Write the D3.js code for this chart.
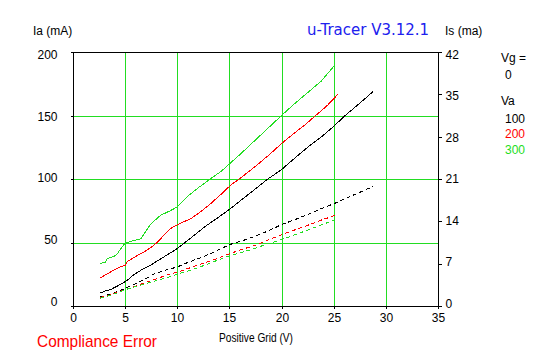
<!DOCTYPE html>
<html>
<head>
<meta charset="utf-8">
<script src="https://cdn.jsdelivr.net/npm/d3@7"></script>
<style>
  html, body { margin: 0; padding: 0; background: #fff; }
  svg { display: block; }
  text { font-family: "Liberation Sans", Arial, sans-serif; }
</style>
</head>
<body>
<svg id="chart" width="547" height="357"></svg>
<script>
// ---- data ----
const xTicks = [0, 5, 10, 15, 20, 25, 30, 35];
const yTicks = [0, 50, 100, 150, 200];
const y2Ticks = [0, 7, 14, 21, 28, 35, 42];
const vaLabels = ["100", "200", "300"];
const seriesColors = ["#000000", "#ff0000", "#22dd22"];

// Anode current Ia (mA), left axis
const ia100V = [2.6, 3.1, 3.6, 4.2, 4.7, 5.2, 5.8, 6.5, 7.5, 8.7, 10.0, 10.8, 11.6, 12.6, 13.8, 15.1, 16.1, 17.3, 18.6, 20.0, 21.2, 22.5, 23.8, 25.0, 26.1, 27.4, 28.8];
const ia100  = [10.2, 11.8, 12.9, 15.5, 17.6, 20.2, 24.5, 28.1, 32.5, 38.6, 45.2, 50.4, 55.5, 62.2, 69.0, 76.7, 83.2, 91.0, 99.5, 107.4, 116.0, 125.0, 133.0, 141.5, 150.0, 159.0, 169.0];
const ia200V = [2.6, 3.1, 3.6, 4.5, 5.0, 5.2, 6.2, 7.0, 7.75, 8.1, 8.7, 9.35, 10.0, 11.3, 12.2, 13.2, 14.2, 15.1, 16.1, 17.5, 18.8, 20.0, 21.2, 22.3, 23.3, 24.4, 25.4];
const ia200  = [22.0, 24.5, 26.8, 30.7, 32.0, 35.0, 39.9, 43.5, 47.8, 50.4, 55.5, 61.0, 64.0, 68.8, 74.0, 80.6, 88.0, 95.0, 101.0, 110.0, 119.0, 127.9, 136.0, 143.0, 150.2, 158.0, 166.7];
const ia300V = [2.6, 3.1, 3.3, 3.9, 4.2, 4.7, 5.0, 5.8, 6.5, 7.0, 7.5, 8.4, 9.2, 10.0, 10.9, 12.0, 13.2, 14.2, 15.1, 16.1, 17.4, 18.7, 20.0, 21.2, 22.5, 23.8, 25.0];
const ia300  = [33.4, 34.6, 37.3, 39.0, 40.5, 46.5, 49.6, 51.5, 53.0, 59.0, 65.0, 71.4, 74.5, 78.0, 85.8, 93.0, 100.3, 106.0, 112.6, 120.0, 130.0, 140.0, 150.0, 159.0, 168.0, 177.0, 188.7];

// Screen current Is (mA), right axis
const is100V = [2.6, 3.5, 4.3, 5.0, 6.0, 7.0, 7.75, 8.8, 10.0, 11.0, 12.1, 13.2, 14.2, 15.1, 16.1, 17.4, 18.7, 20.0, 21.3, 22.6, 23.8, 25.0, 26.3, 27.5, 28.8];
const is100  = [1.5, 1.9, 2.4, 2.9, 3.7, 4.5, 5.3, 5.9, 6.45, 7.2, 7.9, 8.66, 9.5, 10.2, 10.7, 11.5, 12.4, 13.46, 14.3, 15.2, 16.1, 16.9, 17.9, 18.8, 19.8];
const is200V = [2.6, 3.5, 4.3, 5.0, 6.0, 7.0, 8.0, 9.0, 10.0, 11.2, 12.4, 13.6, 14.8, 16.1, 17.4, 18.7, 20.0, 21.3, 22.6, 23.8, 25.0, 25.4];
const is200  = [1.4, 1.8, 2.3, 2.7, 3.3, 3.9, 4.5, 5.1, 5.6, 6.3, 7.0, 7.7, 8.5, 9.3, 10.0, 10.9, 11.8, 12.6, 13.4, 14.2, 14.9, 15.2];
const is300V = [2.6, 3.5, 4.3, 5.0, 6.0, 7.0, 8.0, 9.0, 10.0, 11.2, 12.4, 13.6, 14.8, 16.1, 17.4, 18.7, 20.0, 21.3, 22.6, 23.8, 25.0];
const is300  = [1.3, 1.7, 2.2, 2.7, 3.2, 3.7, 4.2, 4.7, 5.24, 5.9, 6.6, 7.4, 8.2, 8.83, 9.5, 10.3, 10.98, 11.8, 12.6, 13.4, 14.17];

// ---- layout ----
const svg = d3.select("#chart");
const L = 73, R = 438, T = 52, B = 306;
const x = d3.scaleLinear().domain([0, 35]).range([L, R]);
const y = d3.scaleLinear().domain([0, 200]).range([B, T]);
const y2 = d3.scaleLinear().domain([0, 42]).range([B, T]);
const gridColor = "#22dd22";

svg.append("rect").attr("width", 547).attr("height", 357).attr("fill", "#fff");

// grid
const g = svg.append("g").attr("shape-rendering", "crispEdges");
g.selectAll("line.vg").data(xTicks.filter(d => d > 0 && d < 35)).enter().append("line")
  .attr("x1", d => Math.round(x(d)) + 0.5).attr("x2", d => Math.round(x(d)) + 0.5)
  .attr("y1", T).attr("y2", B).attr("stroke", gridColor).attr("stroke-width", 1);
g.selectAll("line.hg").data(yTicks.filter(d => d > 0 && d < 200)).enter().append("line")
  .attr("x1", L - 2).attr("x2", R)
  .attr("y1", d => Math.round(y(d)) + 0.5).attr("y2", d => Math.round(y(d)) + 0.5)
  .attr("stroke", gridColor).attr("stroke-width", 1);

// frame
svg.append("rect").attr("x", L + 0.5).attr("y", T + 0.5).attr("width", R - L).attr("height", B - T)
  .attr("fill", "none").attr("stroke", "#000").attr("stroke-width", 1).attr("shape-rendering", "crispEdges");

function styleAxis(sel) {
  sel.select(".domain").remove();
  sel.selectAll(".tick line").attr("stroke", "#000").attr("shape-rendering", "crispEdges");
  sel.selectAll(".tick text").attr("fill", "#000")
    .style("font-family", "'Liberation Sans', Arial, sans-serif").style("font-size", "12px");
}

// axes
const yLabelPos = d3.scaleLinear().domain([0, 200]).range([302, 55]);
const ax = svg.append("g").attr("transform", `translate(${L + 0.5},0)`)
  .call(d3.axisLeft(y).tickValues(yTicks).tickSize(3).tickPadding(13));
styleAxis(ax);
ax.selectAll(".tick").attr("transform", d => `translate(0,${Math.round(y(d)) + 0.5})`);
ax.selectAll(".tick text").attr("y", d => yLabelPos(d) - Math.round(y(d)) - 0.5);

const y2LabelPos = d3.scaleLinear().domain([0, 42]).range([304, 55]);
const ax2 = svg.append("g").attr("transform", `translate(${R + 0.5},0)`)
  .call(d3.axisRight(y2).tickValues(y2Ticks).tickSize(3).tickPadding(4));
styleAxis(ax2);
ax2.selectAll(".tick").attr("transform", d => `translate(0,${Math.round(y2(d)) + 0.5})`);
ax2.selectAll(".tick text").attr("y", d => y2LabelPos(d) - Math.round(y2(d)) - 0.5);

const axb = svg.append("g").attr("transform", `translate(0,${B + 0.5})`)
  .call(d3.axisBottom(x).tickValues(xTicks).tickSize(2).tickPadding(5));
styleAxis(axb);
axb.selectAll(".tick").attr("transform", d => `translate(${Math.round(x(d)) + 0.5},0)`);

// series
const solid = [[ia100V, ia100], [ia200V, ia200], [ia300V, ia300]];
const dashed = [[is100V, is100], [is200V, is200], [is300V, is300]];
const plot = svg.append("g").attr("shape-rendering", "crispEdges");
solid.forEach((s, i) => {
  const pts = s[0].map((v, k) => [v, s[1][k]]);
  plot.append("path").datum(pts)
    .attr("d", d3.line().x(d => x(d[0])).y(d => y(d[1]))(pts))
    .attr("fill", "none").attr("stroke", seriesColors[i]).attr("stroke-width", 1);
});
dashed.forEach((s, i) => {
  const pts = s[0].map((v, k) => [v, s[1][k]]);
  plot.append("path").datum(pts)
    .attr("d", d3.line().x(d => x(d[0])).y(d => y2(d[1]))(pts))
    .attr("fill", "none").attr("stroke", seriesColors[i]).attr("stroke-width", 1)
    .attr("stroke-dasharray", "4,3");
});

// texts
const font = "'Liberation Sans', Arial, sans-serif";
function txt(t, xx, yy, size, color, extra) {
  const e = svg.append("text").attr("x", xx).attr("y", yy).text(t)
    .style("font-family", font).style("font-size", size + "px").attr("fill", color);
  if (extra) extra(e);
  return e;
}
txt("Ia (mA)", 33, 35, 12, "#000");
txt("Is (ma)", 445, 35, 12, "#000");
txt("u-Tracer V3.12.1", 307, 35, 16, "#2020ee", e => e.attr("textLength", 122).attr("lengthAdjust", "spacingAndGlyphs").style("font-family", "'DejaVu Sans', sans-serif"));
txt("Vg =", 501, 62, 12, "#000");
txt("0", 505, 79, 12, "#000");
txt("Va", 501, 105, 12, "#000");
vaLabels.forEach((v, i) => txt(v, 505, 123 + i * 15.3, 12, seriesColors[i]));
txt("Positive Grid (V)", 219, 342, 12, "#000", e => e.attr("textLength", 74).attr("lengthAdjust", "spacingAndGlyphs"));
txt("Compliance Error", 37, 347, 17, "#ff0000", e => e.attr("textLength", 120).attr("lengthAdjust", "spacingAndGlyphs"));
</script>
</body>
</html>
